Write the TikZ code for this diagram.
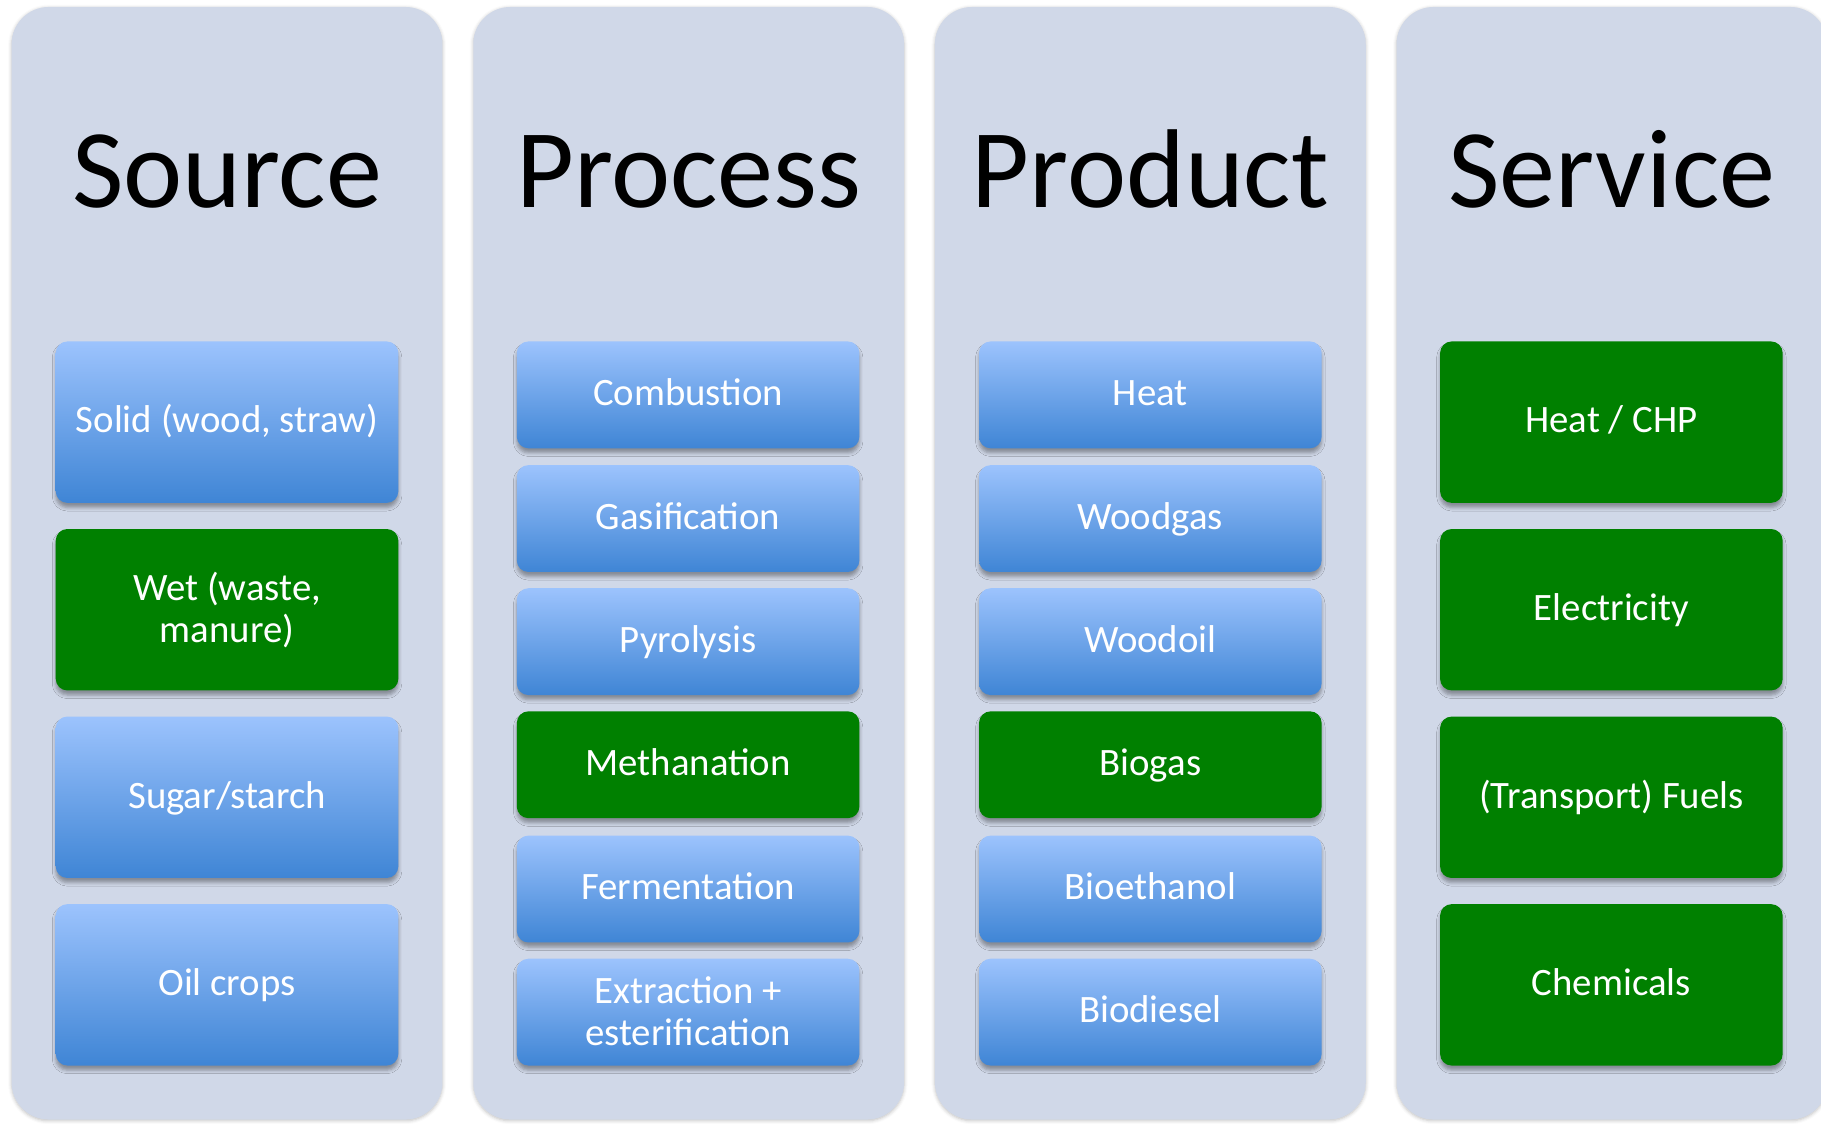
\documentclass[tikz,border=0pt]{standalone}
\usepackage{fontspec}
\setmainfont{Carlito}
\usetikzlibrary{shadows.blur}
\definecolor{panelfill}{HTML}{D0D8E8}
\definecolor{bluetop}{HTML}{9CC3FD}
\definecolor{bluemid}{HTML}{8BB8F5}
\definecolor{bluebot}{HTML}{3F85D5}
\definecolor{boxgreen}{HTML}{008000}
\tikzset{
  panelbox/.style={fill=panelfill, rounded corners=32pt, minimum width=371pt, minimum height=958pt, inner sep=0pt,
    blur shadow={shadow xshift=0pt, shadow yshift=-1pt, shadow blur radius=3pt, shadow opacity=25}},
  coltitle/.style={anchor=base, text=black, font=\fontsize{96.5}{100}\selectfont, inner sep=0pt},
  basebox/.style={rounded corners=10pt, minimum width=295pt, inner sep=0pt, text=white,
    font=\fontsize{33.4}{36.5}\selectfont, align=center,
    blur shadow={shadow xshift=0pt, shadow yshift=-4pt, shadow blur radius=3pt, shadow opacity=35}},
  bluebox/.style={basebox, top color=bluetop, middle color=bluemid, bottom color=bluebot},
  greenbox/.style={basebox, fill=boxgreen},
  tallbox/.style={minimum height=139pt},
  shortbox/.style={minimum height=92pt},
  oneline/.style={text height=18.5pt, text depth=0pt}
}
\begin{document}
\begin{tikzpicture}[x=1pt,y=-1pt]
\useasboundingbox (0,0) rectangle (1568,967);
% panels
\node[panelbox] (pSource) at (195.5,485) {};
\node[panelbox] (pProcess) at (593,485) {};
\node[panelbox] (pProduct) at (990.5,485) {};
\node[panelbox] (pService) at (1388,485) {};
% titles
\node[coltitle] (tSource) at (195.5,179) {Source};
\node[coltitle] (tProcess) at (593,179) {Process};
\node[coltitle] (tProduct) at (990.5,179) {Product};
\node[coltitle] (tService) at (1388,179) {Service};
% source
\node[bluebox,tallbox,oneline] (s1) at (195.5,363.5) {Solid (wood, straw)};
\node[greenbox,tallbox] (s2) at (195.5,525) {Wet (waste,\\manure)};
\node[bluebox,tallbox,oneline] (s3) at (195.5,686.5) {Sugar/starch};
\node[bluebox,tallbox,oneline] (s4) at (195.5,848) {Oil crops};
% process
\node[bluebox,shortbox,oneline] (pr1) at (592.5,340) {Combustion};
\node[bluebox,shortbox,oneline] (pr2) at (592.5,446.5) {Gasification};
\node[bluebox,shortbox,oneline] (pr3) at (592.5,552.5) {Pyrolysis};
\node[greenbox,shortbox,oneline] (pr4) at (592.5,658.5) {Methanation};
\node[bluebox,shortbox,oneline] (pr5) at (592.5,765.5) {Fermentation};
\node[bluebox,shortbox] (pr6) at (592.5,871.5) {\raisebox{2pt}{Extraction +}\\\raisebox{2pt}{esterification}};
% product
\node[bluebox,shortbox,oneline] (pd1) at (990.5,340) {Heat};
\node[bluebox,shortbox,oneline] (pd2) at (990.5,446.5) {Woodgas};
\node[bluebox,shortbox,oneline] (pd3) at (990.5,552.5) {Woodoil};
\node[greenbox,shortbox,oneline] (pd4) at (990.5,658.5) {Biogas};
\node[bluebox,shortbox,oneline] (pd5) at (990.5,765.5) {Bioethanol};
\node[bluebox,shortbox,oneline] (pd6) at (990.5,871.5) {Biodiesel};
% service
\node[greenbox,tallbox,oneline] (sv1) at (1387.5,363.5) {Heat / CHP};
\node[greenbox,tallbox,oneline] (sv2) at (1387.5,525) {Electricity};
\node[greenbox,tallbox,oneline] (sv3) at (1387.5,686.5) {(Transport) Fuels};
\node[greenbox,tallbox,oneline] (sv4) at (1387.5,848) {Chemicals};
\end{tikzpicture}
\end{document}
